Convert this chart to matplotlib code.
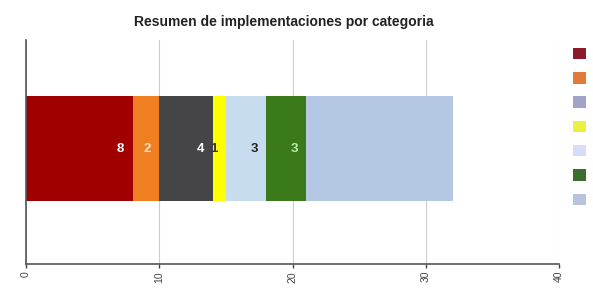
import matplotlib
matplotlib.use("Agg")
import matplotlib.pyplot as plt
from matplotlib.patches import Patch

# data
categories = ["A", "B", "C", "D", "E", "F", "G"]
values = [8, 2, 4, 1, 3, 3, 11]
bar_colors = ["#a00000", "#f07f22", "#454548", "#ffff00", "#c8dcf0", "#3a7a1a", "#b4c8e4"]
legend_colors = ["#8b1a2b", "#e07b39", "#a3a3c8", "#eef040", "#d8dcf8", "#3c6e2c", "#b8c4dc"]
label_colors = ["white", "#ffe6c8", "white", "#333333", "#222222", "#b8f0a8", None]
ticks = [0, 10, 20, 30, 40]

fig = plt.figure(figsize=(5.93, 2.89), dpi=100)
ax = fig.add_axes([0.044, 0.0865, 0.899, 0.775])

left = 0
for v, c, lc in zip(values, bar_colors, label_colors):
    ax.barh(0, v, left=left, height=0.94, color=c, zorder=2)
    if lc is not None:
        ax.text(left + v - 0.9, 0, str(v), ha="center", va="center",
                color=lc, fontsize=9.5, fontweight="bold",
                family="Liberation Sans", zorder=3)
    left += v

ax.set_xlim(0, 40)
ax.set_ylim(-1.03, 0.97)
ax.set_xticks(ticks)
ax.set_xticklabels([str(t) for t in ticks], rotation=90, fontsize=7.5, color="#444444",
                   family="Liberation Sans")
ax.set_yticks([])
ax.tick_params(axis="x", length=3, width=1, color="#444444", pad=2)
ax.grid(axis="x", color="#cccccc", linewidth=0.8, zorder=0)

for s in ("top", "right"):
    ax.spines[s].set_visible(False)
for s in ("left", "bottom"):
    ax.spines[s].set_color("#555555")
    ax.spines[s].set_linewidth(1.2)

fig.text(0.479, 0.924, "Resumen de implementaciones por categoria", fontsize=10,
         fontweight="bold", color="#222222", family="Liberation Sans",
         ha="center", va="center")

handles = [Patch(facecolor=c) for c in legend_colors]
fig.legend(handles, [""] * len(handles), loc="upper left",
           bbox_to_anchor=(0.955, 0.86), frameon=False,
           handlelength=0.9, handleheight=0.9, labelspacing=0.74,
           handletextpad=0, borderpad=0)

fig.savefig("out.png", dpi=100)
